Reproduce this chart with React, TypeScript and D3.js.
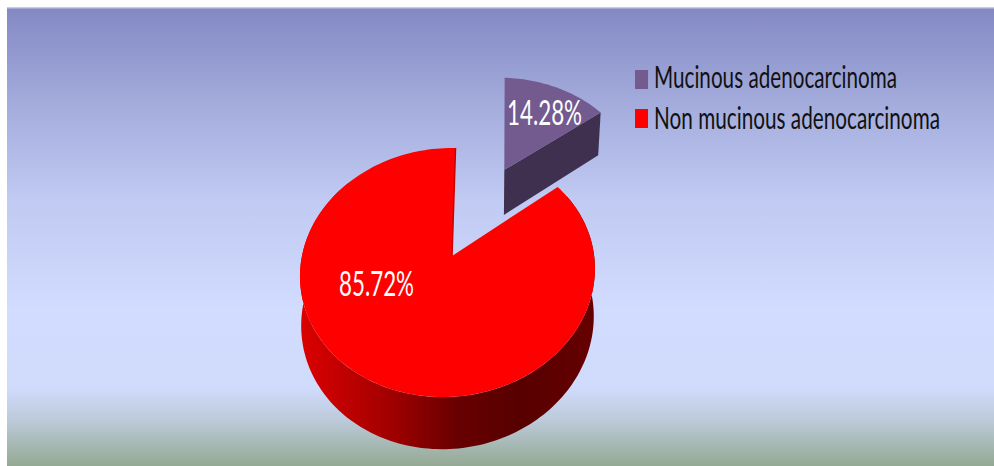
import React from "react";
import * as d3 from "d3";

// Tumour type shares, in percent
const categories = ["Mucinous adenocarcinoma", "Non mucinous adenocarcinoma"];
const shares = [14.28, 85.72];
const shareLabels = ["14.28%", "85.72%"];

const WIDTH = 994;
const HEIGHT = 466;

type Pt = [number, number];

// Perspective projection of the pie's plane onto the screen
const ORIGIN: Pt = [452, 256];
const SCALE_X = 146;
const SCALE_Y = 122.3;
const SHEAR = -4;
const TILT_V = 0.1325;
const TILT_U = -0.027;
const EXPLODE = 0.871;
const PURPLE_RADIUS = 1.04;

const weight = (u: number, v: number) => 1 - TILT_V * v - TILT_U * u;
const project = (u: number, v: number): Pt => {
  const w = weight(u, v);
  return [ORIGIN[0] + (SCALE_X * u + SHEAR * v) / w, ORIGIN[1] + (SCALE_Y * v) / w];
};
// Drop of the disc's thickness at a plane position; nearer parts look thicker
const lower = (u: number, v: number): Pt => {
  const [x, y] = project(u, v);
  const w = weight(u, v);
  return [ORIGIN[0] + (x - ORIGIN[0]) * 0.992, y + 48 * Math.pow(w, -0.58)];
};

const pieLayout = d3.pie<number>().sort(null).value((d) => d);
const arcs = pieLayout(shares);

const polar = (a: number, r = 1, ox = 0, oy = 0): Pt => [ox + r * Math.sin(a), oy - r * Math.cos(a)];
const lineGen = d3.line<Pt>();
const closed = (pts: Pt[]) => (lineGen(pts) ?? "") + "Z";

const angles = (a0: number, a1: number, n: number) =>
  d3.range(n + 1).map((i) => a0 + ((a1 - a0) * i) / n);

// Non-mucinous sector
const red = arcs[1];
const redTop = closed([
  project(0, 0),
  ...angles(red.startAngle, red.endAngle, 180).map((a) => {
    const [u, v] = polar(a);
    return project(u, v);
  }),
]);

// Rim as one band between the upper and lower outlines; its far ends stay under the top face
const sideAngles = angles(Math.PI * 0.32, Math.PI * 1.72, 170);
const sidePath = closed([
  ...sideAngles.map((a) => {
    const [u, v] = polar(a);
    return project(u, v);
  }),
  ...sideAngles
    .slice()
    .reverse()
    .map((a) => {
      const [u, v] = polar(a);
      return lower(u, v);
    }),
]);
const sideStops: [number, string][] = [
  [300, "#dc0000"],
  [390, "#a20000"],
  [457, "#680000"],
  [520, "#570000"],
  [596, "#660000"],
];

// Mucinous sector, pulled away from the pie along its bisector
const purple = arcs[0];
const mid = (purple.startAngle + purple.endAngle) / 2;
const [ex, ey] = polar(mid, EXPLODE);
const apexY = project(ex, ey)[1];
// Straightens the sector's left edge on screen
const upright = ([x, y]: Pt): Pt => [x + (apexY - y) * 0.03, y];
const purpleTop = closed([
  project(ex, ey),
  ...angles(purple.startAngle, purple.endAngle, 40).map((a) => {
    const [u, v] = polar(a, PURPLE_RADIUS, ex, ey);
    return upright(project(u, v));
  }),
]);
const [eu, ev] = polar(purple.endAngle, PURPLE_RADIUS, ex, ey);
const purpleWall = closed([project(ex, ey), upright(project(eu, ev)), upright(lower(eu, ev)), lower(ex, ey)]);

const swatches = ["#735a8f", "#ff0000"];
const legendRows = [
  { swatchY: 70, baseline: 88, textEnd: 897 },
  { swatchY: 109, baseline: 129, textEnd: 940 },
];
const FONT = "Lato, 'Noto Sans', sans-serif";

export default function App() {
  return (
    <svg
      width={WIDTH}
      height={HEIGHT}
      style={{ position: "fixed", left: 0, top: 0, display: "block", background: "#fff" }}
    >
      <defs>
        <linearGradient id="panelFill" x1="0" y1="0" x2="0" y2="1">
          <stop offset="0" stopColor="#8388c3" />
          <stop offset="0.2" stopColor="#a2aadb" />
          <stop offset="0.42" stopColor="#c0caf2" />
          <stop offset="0.66" stopColor="#d2dcff" />
          <stop offset="0.83" stopColor="#d0dbfb" />
          <stop offset="0.9" stopColor="#bccada" />
          <stop offset="1" stopColor="#94a993" />
        </linearGradient>
        <linearGradient
          id="sideFill"
          gradientUnits="userSpaceOnUse"
          x1={sideStops[0][0]}
          x2={sideStops[sideStops.length - 1][0]}
          y1={0}
          y2={0}
        >
          {sideStops.map(([x, c]) => (
            <stop key={x} offset={(x - 300) / 296} stopColor={c} />
          ))}
        </linearGradient>
      </defs>
      <rect x={7} y={7} width={WIDTH - 7} height={HEIGHT - 7} fill="url(#panelFill)" />
      <rect x={7} y={7} width={WIDTH - 7} height={1.5} fill="#c9c6e6" />

      <path d={sidePath} fill="url(#sideFill)" />
      <path d={redTop} fill="#ff0000" />
      <path
        d={lineGen([project(0, 0), project(...polar(red.endAngle))]) ?? ""}
        stroke="#c80000"
        strokeWidth={1.5}
        fill="none"
      />

      <path d={purpleWall} fill="#3f3050" />
      <path d={purpleTop} fill={swatches[0]} />

      <text
        x={507}
        y={125}
        fill="#fff"
        fontFamily={FONT}
        fontSize={35}
        textLength={75}
        lengthAdjust="spacingAndGlyphs"
      >
        {shareLabels[0]}
      </text>
      <text
        x={339}
        y={296}
        fill="#fff"
        fontFamily={FONT}
        fontSize={35}
        textLength={75}
        lengthAdjust="spacingAndGlyphs"
      >
        {shareLabels[1]}
      </text>

      {categories.map((c, i) => (
        <g key={c}>
          <rect x={635} y={legendRows[i].swatchY} width={13} height={19} fill={swatches[i]} />
          <text
            transform={`translate(654,${legendRows[i].baseline}) scale(1,1.25)`}
            fill="#111"
            fontFamily={FONT}
            fontSize={24}
            textLength={legendRows[i].textEnd - 654}
            lengthAdjust="spacingAndGlyphs"
          >
            {c}
          </text>
        </g>
      ))}
    </svg>
  );
}
